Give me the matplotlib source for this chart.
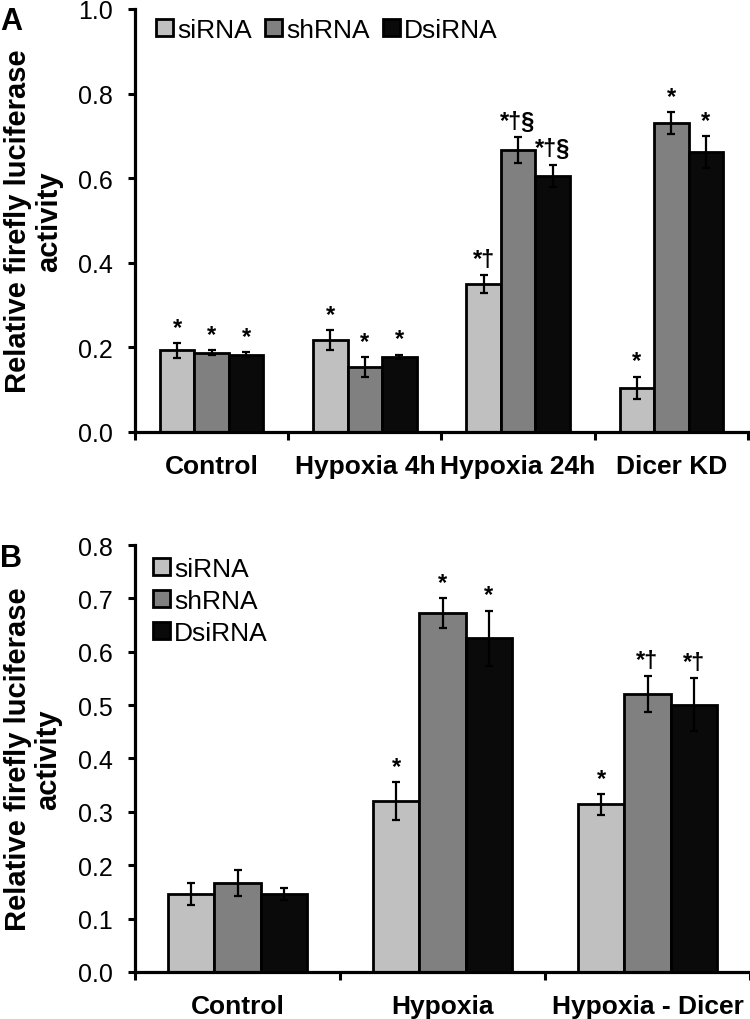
#!/usr/bin/env python3
"""
Relative firefly luciferase activity, siRNA / shRNA / DsiRNA.
Two panels (A: time course + Dicer KD, B: hypoxia +/- Dicer).
"""

import numpy as np
import matplotlib
matplotlib.use("Agg")
import matplotlib.pyplot as plt

plt.rcParams['font.family'] = ['Liberation Sans', 'DejaVu Sans']

# --- data ---
series = ['siRNA', 'shRNA', 'DsiRNA']
colors = ['#c0c0c0', '#808080', '#0a0a0a']

# Panel A
cats_a = ['Control', 'Hypoxia 4h', 'Hypoxia 24h', 'Dicer KD']
vals_a = [
    [0.193, 0.218, 0.350, 0.104],   # siRNA
    [0.187, 0.153, 0.666, 0.730],   # shRNA
    [0.183, 0.178, 0.606, 0.662],   # DsiRNA
]
errs_a = [
    [0.018, 0.023, 0.021, 0.027],
    [0.006, 0.024, 0.031, 0.026],
    [0.006, 0.005, 0.026, 0.037],
]
marks_a = [
    ['*', '*', '*\u2020', '*'],
    ['*', '*', '*\u2020\u00a7', '*'],
    ['*', '*', '*\u2020\u00a7', '*'],
]

# Panel B
cats_b = ['Control', 'Hypoxia', 'Hypoxia - Dicer']
vals_b = [
    [0.146, 0.320, 0.314],
    [0.167, 0.673, 0.521],
    [0.146, 0.625, 0.501],
]
errs_b = [
    [0.021, 0.036, 0.020],
    [0.025, 0.028, 0.033],
    [0.011, 0.052, 0.049],
]
marks_b = [
    ['', '*', '*'],
    ['', '*', '*\u2020'],
    ['', '*', '*\u2020'],
]

W = 0.225  # bar width in category units


def draw_panel(ax, cats, vals, errs, marks, ymax, ystep):
    x = np.arange(len(cats))
    for i, name in enumerate(series):
        pos = x + (i - 1) * W
        ax.bar(pos, vals[i], W, color=colors[i], edgecolor='black',
               linewidth=2.0, label=name, zorder=2)
        ax.errorbar(pos, vals[i], yerr=errs[i], fmt='none', ecolor='black',
                    elinewidth=1.6, capsize=3, capthick=1.6, zorder=3)
        for p, v, e, m in zip(pos, vals[i], errs[i], marks[i]):
            if m:
                ax.annotate(m, (p, v + e), xytext=(0, 3),
                            textcoords='offset points', ha='center',
                            va='bottom', fontsize=17, fontweight='bold')

    ax.set_xlim(-0.5, len(cats) - 0.5)
    ax.set_ylim(0, ymax)
    ticks = np.arange(0, ymax + 1e-9, ystep)
    ax.set_yticks(ticks)
    ax.set_yticklabels([f'{t:.1f}' for t in ticks])

    # category boundaries as major ticks, names on minor ticks
    ax.set_xticks(np.arange(len(cats) + 1) - 0.5)
    ax.set_xticklabels([])
    ax.set_xticks(x, minor=True)
    ax.set_xticklabels(cats, minor=True, fontsize=19, fontweight='bold')
    ax.tick_params(axis='x', which='major', length=6, width=2.2,
                   direction='out')
    ax.tick_params(axis='x', which='minor', length=0, pad=16)
    ax.tick_params(axis='y', length=5, width=2.2, labelsize=18, pad=11)

    for s in ('top', 'right'):
        ax.spines[s].set_visible(False)
    for s in ('left', 'bottom'):
        ax.spines[s].set_linewidth(2.3)

    ax.set_ylabel('Relative firefly luciferase\nactivity', fontsize=21,
                  fontweight='bold', linespacing=1.1)
    # anchor is the right-hand edge of the rotated two-line label
    ax.yaxis.set_label_coords(-0.118, 0.5)


def add_legend(ax, ncol, anchor):
    ax.legend(loc='upper left', bbox_to_anchor=anchor, ncol=ncol,
              frameon=False, fontsize=19, handlelength=0.65,
              handleheight=0.6, handletextpad=0.15, columnspacing=0.5,
              labelspacing=0.3, borderpad=0.1, borderaxespad=0)


fig = plt.figure(figsize=(7.5, 10.2), dpi=100)

ax_a = fig.add_axes([0.18, 0.5755, 0.8173, 0.4147])
draw_panel(ax_a, cats_a, vals_a, errs_a, marks_a, 1.0, 0.2)
add_legend(ax_a, 3, (0.03, 0.985))

ax_b = fig.add_axes([0.18, 0.0461, 0.82, 0.4186])
draw_panel(ax_b, cats_b, vals_b, errs_b, marks_b, 0.8, 0.1)
add_legend(ax_b, 1, (0.025, 0.978))

fig.text(0.0, 1 - 7 / 1020, 'A', fontsize=22, fontweight='bold',
         va='top', ha='left')
fig.text(0.0, 1 - 544 / 1020, 'B', fontsize=22, fontweight='bold',
         va='top', ha='left')

fig.savefig('out.png', dpi=100)
